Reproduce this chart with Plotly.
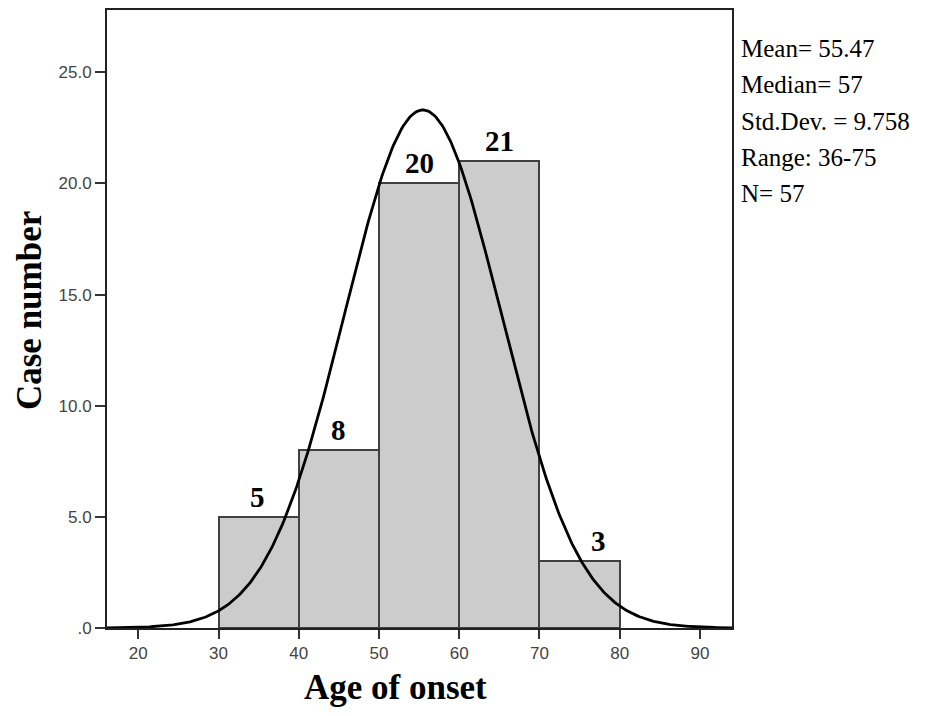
import numpy as np
import plotly.graph_objects as go

# Data
bin_starts = [30, 40, 50, 60, 70]
bin_width = 10
counts = [5, 8, 20, 21, 3]
count_labels = ["5", "8", "20", "21", "3"]
label_x = [34.9, 45.0, 55.0, 65.0, 77.4]
mean_age = 55.47
sd_age = 9.758
n_cases = 57
stats_lines = ["Mean= 55.47", "Median= 57", "Std.Dev. = 9.758", "Range: 36-75", "N= 57"]
x_ticks = [20, 30, 40, 50, 60, 70, 80, 90]
y_ticks = [0, 5, 10, 15, 20, 25]
y_tick_text = [".0", "5.0", "10.0", "15.0", "20.0", "25.0"]

fig = go.Figure()

fig.add_trace(go.Bar(
    x=[s + bin_width / 2 for s in bin_starts],
    y=counts,
    width=[bin_width] * len(counts),
    marker=dict(color="#cccccc", line=dict(color="#404040", width=2)),
    showlegend=False,
    hoverinfo="skip",
))

# Normal curve overlay from the summary statistics
xc = np.linspace(16.1, 94, 400)
yc = n_cases * bin_width / (sd_age * np.sqrt(2 * np.pi)) * np.exp(-0.5 * ((xc - mean_age) / sd_age) ** 2)
fig.add_trace(go.Scatter(x=xc, y=yc, mode="lines", line=dict(color="black", width=2.8),
                         showlegend=False, hoverinfo="skip"))

annotations = []
for lx, c, t in zip(label_x, counts, count_labels):
    annotations.append(dict(x=lx, y=c, xref="x", yref="y", text="<b>%s</b>" % t, showarrow=False,
                            yanchor="bottom", yshift=2,
                            font=dict(family="Liberation Serif", size=29, color="black")))

# pixel positions -> paper coords
pl, pr, pt, pb = 107, 198, 8, 88
pw, ph = 930 - pl - pr, 716 - pt - pb


def px(xp):
    return (xp - pl) / pw


def py(yp):
    return (716 - yp - pb) / ph


for i, s in enumerate(stats_lines):
    annotations.append(dict(x=px(739), y=py(47 + i * 36.2), xref="paper", yref="paper", text=s,
                            showarrow=False, xanchor="left", yanchor="middle",
                            font=dict(family="Liberation Serif", size=25, color="black")))

annotations.append(dict(x=px(29), y=py(310), xref="paper", yref="paper", text="<b>Case number</b>",
                        showarrow=False, textangle=-90, xanchor="center", yanchor="middle",
                        font=dict(family="Liberation Serif", size=35, color="black")))
annotations.append(dict(x=px(395), y=py(688), xref="paper", yref="paper", text="<b>Age of onset</b>",
                        showarrow=False, xanchor="center", yanchor="middle",
                        font=dict(family="Liberation Serif", size=35, color="black")))

fig.update_layout(
    width=930, height=716,
    margin=dict(l=pl, r=pr, t=pt, b=pb),
    paper_bgcolor="white", plot_bgcolor="white",
    bargap=0,
    annotations=annotations,
    xaxis=dict(range=[16.1, 94], tickvals=x_ticks, ticks="outside", ticklen=9, tickwidth=2,
               tickcolor="#333", showgrid=False, zeroline=False, showline=True, linecolor="#222",
               linewidth=2, mirror=True,
               tickfont=dict(family="Liberation Sans", size=17, color="#444")),
    yaxis=dict(range=[0, 27.8], tickvals=y_ticks, ticktext=y_tick_text, ticks="outside", ticklen=10,
               tickwidth=2, tickcolor="#333", showgrid=False, zeroline=False, showline=True,
               linecolor="#222", linewidth=2, mirror=True,
               tickfont=dict(family="Liberation Sans", size=17, color="#444")),
)

fig.write_html("out.html", config={"displayModeBar": False},
               post_script="document.body.style.margin='0';")
